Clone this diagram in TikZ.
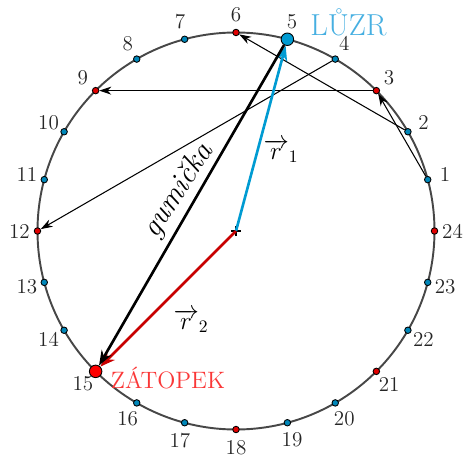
\documentclass[tikz,border=0pt]{standalone}
\usepackage{amsmath}
\usetikzlibrary{arrows.meta}

\definecolor{ptblue}{RGB}{0,135,185}
\definecolor{ptred}{RGB}{225,0,0}
\definecolor{vecblue}{RGB}{0,155,210}
\definecolor{vecred}{RGB}{200,0,0}
\definecolor{luzrblue}{RGB}{70,175,225}
\definecolor{zatred}{RGB}{250,55,55}

\begin{document}
\begin{tikzpicture}[
    every node/.style={font=\large},
    circ/.style={draw=black!72, line width=1.1pt},
    dot/.style={circle, draw=black, line width=0.5pt, inner sep=0pt,
                minimum size=1.3mm},
    bluedot/.style={dot, fill=ptblue},
    reddot/.style={dot, fill=ptred},
    bigdot/.style={minimum size=2.5mm},
    chord/.style={draw, line width=0.6pt,
                  -{Stealth[length=2.4mm,width=1.6mm]}},
    vecline/.style={line width=1.5pt,
                    -{Stealth[length=3mm,width=2.2mm]}},
    numlbl/.style={font=\large, text=black!85}
  ]
  \useasboundingbox (-4.72,-4.5) rectangle (4.72,4.62);
  \def\R{3.97}

  % the circle and its 24 points
  \draw[circ] (0,0) circle (\R);
  \foreach \k in {1,2,4,7,8,10,11,13,14,16,17,19,20,22,23}
    \node[bluedot] (d\k) at (15*\k:\R) {};
  \foreach \k in {3,6,9,12,18,21,24}
    \node[reddot] (d\k) at (15*\k:\R) {};
  \node[bluedot, bigdot, fill=vecblue] (d5) at (75:\R) {};
  \node[reddot, bigdot, fill=red] (d15) at (225:\R) {};
  \foreach \k in {1,...,24}
    \node[numlbl] (l\k) at (15*\k:4.33) {\k};

  % centre
  \coordinate (o) at (0,0);
  \draw[line width=1.2pt] (o) +(-0.1,0) -- +(0.1,0) (o) +(0,-0.1) -- +(0,0.1);

  % chords
  \draw[chord] (d1) -- (d3);
  \draw[chord] (d3) -- (d9);
  \draw[chord] (d2) -- (d6);
  \draw[chord] (d4) -- (d12);

  % vectors
  \draw[vecline, vecblue] (o) -- (d5);
  \draw[vecline, vecred] (o) -- (d15);
  \draw[vecline, black] (d5) -- (d15);

  % labels
  \node[font=\Large] (r1) at (0.9,1.6) {$\overrightarrow{r}_{1}$};
  \node[font=\Large] (r2) at (-0.9,-1.8) {$\overrightarrow{r}_{2}$};
  \node[font=\LARGE\itshape, rotate=57] (gum) at (-1.15,0.8) {gumička};
  \node[font=\LARGE, text=luzrblue] (luzr) at (2.25,4.17) {LŮZR};
  \node[font=\fontsize{13.5}{16}\selectfont, text=zatred] (zat) at (-1.36,-2.94) {ZÁTOPEK};
\end{tikzpicture}
\end{document}
